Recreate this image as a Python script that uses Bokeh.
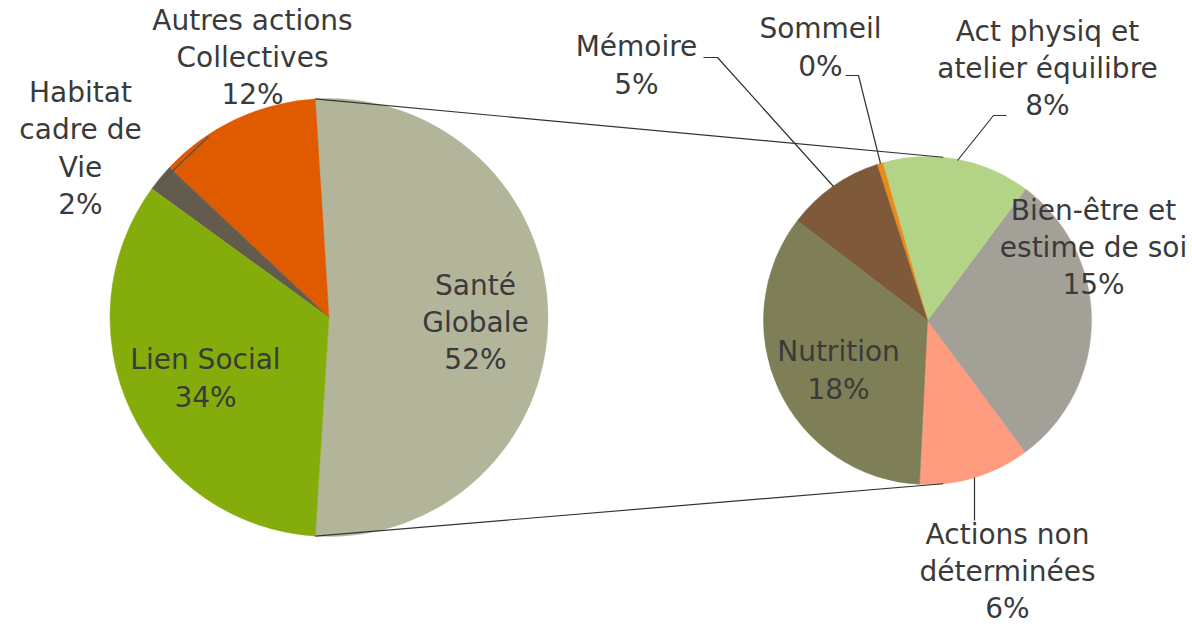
import math
from bokeh.plotting import figure
from bokeh.models import Range1d, ColumnDataSource
from bokeh.core.properties import value
from bokeh.embed import file_html
from bokeh.resources import INLINE

# ---- data ----
left_labels = ["Santé\nGlobale", "Autres actions\nCollectives", "Habitat\ncadre de\nVie", "Lien Social"]
left_values = [52.0, 12.0, 2.0, 34.0]
left_colors = ["#B3B59B", "#E05A00", "#625B4E", "#84AD0C"]

right_labels = ["Actions non\ndéterminées", "Bien-être et\nestime de soi", "Act physiq et\natelier équilibre",
                "Sommeil", "Mémoire", "Nutrition"]
right_values = [5.7, 15.4, 7.6, 0.3, 5.0, 18.0]
right_colors = ["#FF9C80", "#A3A097", "#B3D487", "#E98B1A", "#7E5A3A", "#7E7F57"]

W, H = 1192, 628
FONT = "DejaVu Sans"
TXT = "#3a3a3a"

def X(xr):
    return xr

def Y(yr):
    return H - yr

p = figure(width=W, height=H, output_backend="svg", toolbar_location=None,
           x_range=Range1d(0, W), y_range=Range1d(0, H), min_border=0)
p.axis.visible = False
p.grid.visible = False
p.outline_line_color = None
p.background_fill_color = "white"

# ---- left pie ----
lcx, lcy, lr = X(328.5), Y(317), 219
ltot = sum(left_values)
a = -left_values[0] / ltot * math.pi
ls, le = [], []
for v in left_values:
    ls.append(a)
    a += v / ltot * 2 * math.pi
    le.append(a)
p.wedge(x=lcx, y=lcy, radius=lr, start_angle=ls, end_angle=le,
        fill_color=left_colors, line_color=left_colors, line_width=0.5)

# ---- right pie ----
rcx, rcy, rr = X(927), Y(320), 164
rtot = sum(right_values)
a = math.radians(-92.8)
rs, re_ = [], []
for v in right_values:
    rs.append(a)
    a += v / rtot * 2 * math.pi
    re_.append(a)
p.wedge(x=rcx, y=rcy, radius=rr, start_angle=rs, end_angle=re_,
        fill_color=right_colors, line_color=right_colors, line_width=0.5)

# ---- connector lines ----
t1 = math.radians(84.5)
p.line([lcx + lr * math.cos(le[0]), rcx + rr * math.cos(t1)],
       [lcy + lr * math.sin(le[0]), rcy + rr * math.sin(t1)], line_color="#333333", line_width=1.2)
p.line([lcx + lr * math.cos(ls[0]), rcx + rr * math.cos(-t1)],
       [lcy + lr * math.sin(ls[0]), rcy + rr * math.sin(-t1)], line_color="#333333", line_width=1.2)

# small dark edge near Habitat
p.line([X(158), X(208)], [Y(184), Y(136)], line_color="#555555", line_width=1.5)

# ---- leader lines ----
leaders = [
    ([703, 717, 833], [57, 57, 186]),      # Mémoire
    ([845, 858, 880], [75, 75, 163]),      # Sommeil
    ([1006, 993, 957], [115, 115, 160]),   # Act physiq
    ([974, 974], [477, 520]),              # Actions non déterminées
]
for xs, ys in leaders:
    p.line([X(v) for v in xs], [Y(v) for v in ys], line_color="#333333", line_width=1.2)

# ---- labels ----
def pct(v):
    return f"{round(v)}%"

left_pos = [(475, 322), (252, 57), (80, 148), (205, 378)]
right_pos = [(1007, 571), (1093, 247), (1047, 68), (820, 47), (636, 65), (838, 370)]

txts, xs, ys = [], [], []
for lab, v, (px, py) in zip(left_labels, left_values, left_pos):
    txts.append(lab + "\n" + pct(v)); xs.append(X(px)); ys.append(Y(py))
for lab, v, (px, py) in zip(right_labels, right_values, right_pos):
    txts.append(lab + "\n" + pct(v)); xs.append(X(px)); ys.append(Y(py))

src = ColumnDataSource(dict(x=xs, y=ys, text=txts))
p.text(x="x", y="y", text="text", source=src, text_font=value(FONT), text_font_size="28px",
       text_color=TXT, text_align="center", text_baseline="middle", text_line_height=1.13)

open("out.html", "w").write(file_html(p, INLINE))
